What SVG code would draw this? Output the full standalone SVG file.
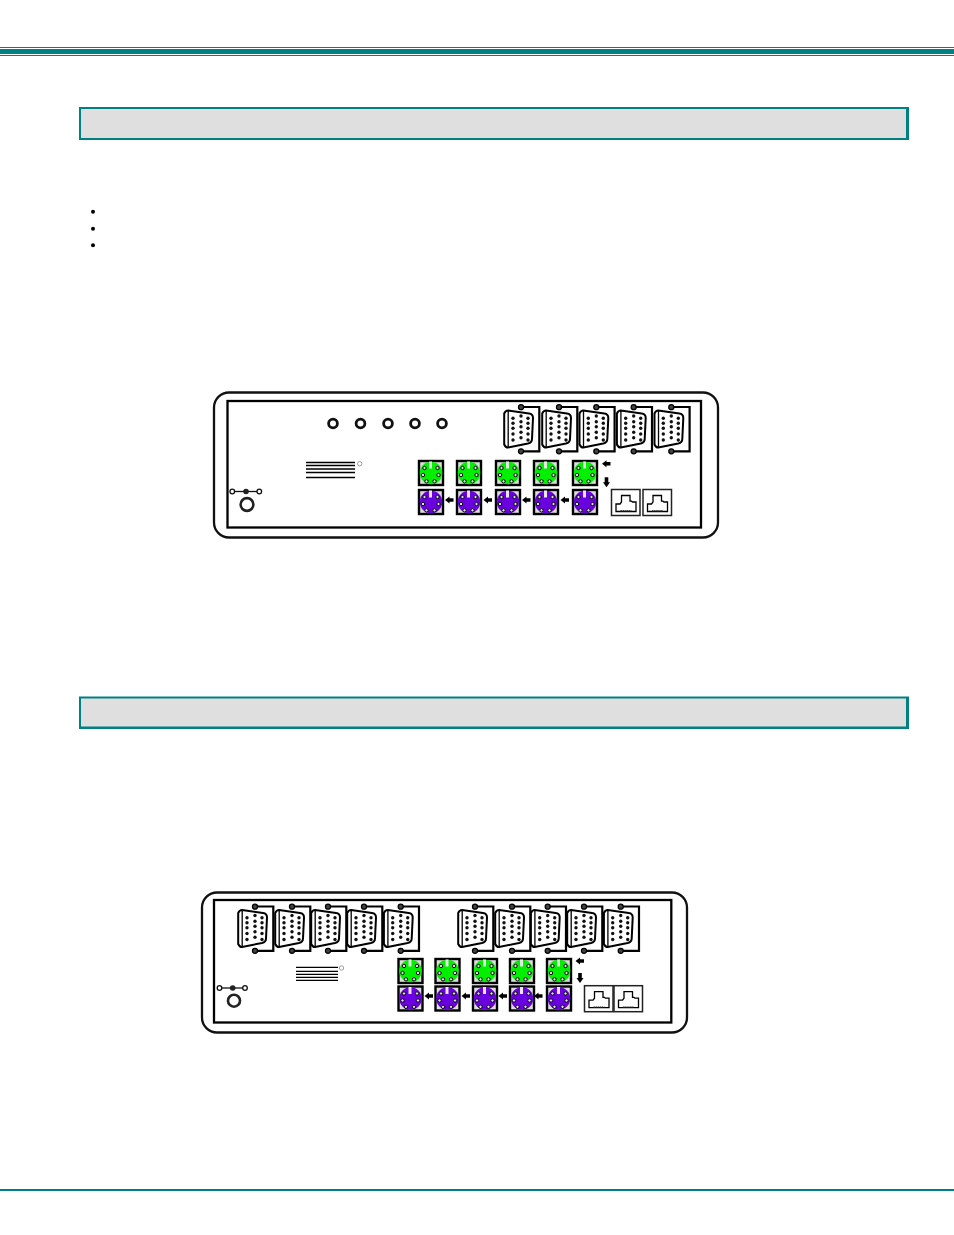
<svg xmlns="http://www.w3.org/2000/svg" width="954" height="1235" viewBox="0 0 954 1235">
<style>
.teal{fill:#008080}
.hfill{fill:#dfdfdf}
.outer{fill:#fff;stroke:#111;stroke-width:2.300}
.inner{fill:#fff;stroke:#000;stroke-width:2.300}
.knob{fill:#fff;stroke:#111;stroke-width:2.800}
.rule{stroke:#000;stroke-width:1.300;fill:none}
.tiny{fill:#fff;stroke:#888;stroke-width:.8}
.sw{fill:#fff;stroke:#111;stroke-width:1.300}
.frame{fill:none;stroke:#000;stroke-width:2.200}
.shell{fill:#fff;stroke:#000;stroke-width:2;stroke-linejoin:round}
.in{fill:none;stroke:#000;stroke-width:1.300}
.screw{fill:#444;stroke:#000;stroke-width:1.300}
.pin{fill:#111}
.pbox{fill:#ddd;stroke:#000;stroke-width:2.400}
.kp{fill:#ddd;stroke:#000;stroke-width:1}
.rj{fill:#fff;stroke:#222;stroke-width:1.500}
.rji{fill:none;stroke:#000;stroke-width:1.300}
.rjb{fill:none;stroke:#222;stroke-width:1.600;stroke-dasharray:1.500 .6}
</style>
<defs>
<g id="vga">
<path class="frame" d="M0,-22H18.300V22.300H0"/>
<path class="shell" d="M-13,-18.500L8,-15.500Q12,-15 12,-11L11,10Q11,13.500 7,14.500L-13,18.500Q-15.500,18.500 -16.800,15.500V-15.500Q-15.500,-18.500 -13,-18.500Z"/>
<path class="in" d="M-12.800,-18V18"/>
<circle class="screw" cx="0" cy="-21.800" r="2.500"/>
<circle class="screw" cx="0" cy="22.300" r="2.500"/>
<g class="pin">
<circle cx="-8" cy="-10.700" r="1.700"/><circle cx="-8" cy="-5.700" r="1.700"/><circle cx="-8" cy="-.7" r="1.700"/><circle cx="-8" cy="5" r="1.700"/><circle cx="-8" cy="11" r="1.700"/>
<circle cx="0" cy="-13" r="1.700"/><circle cx="0" cy="-7.300" r="1.700"/><circle cx="0" cy="-2.300" r="1.700"/><circle cx="0" cy="3.300" r="1.700"/><circle cx="0" cy="8.700" r="1.700"/>
<circle cx="7" cy="-10.700" r="1.700"/><circle cx="7" cy="-5.700" r="1.700"/><circle cx="7" cy="-.7" r="1.700"/><circle cx="7" cy="5" r="1.700"/><circle cx="7" cy="11" r="1.700"/>
</g>
</g>
<g id="pinsP">
<rect x="-2" y="-11.500" width="3" height="7" fill="#e8e8e8"/>
<circle class="kp" cx="-6.500" cy="-5" r="1.700"/><circle class="kp" cx="6.500" cy="-5" r="1.700"/>
<circle class="kp" cx="-8" cy="2" r="1.700"/><circle class="kp" cx="7.500" cy="2" r="1.700"/>
<circle class="kp" cx="-4.500" cy="8.300" r="1.700"/><circle class="kp" cx="3.500" cy="8.300" r="1.700"/>
</g>
<g id="ps2g">
<rect class="pbox" x="-12" y="-12" width="24" height="24"/>
<circle cx="0" cy="0" r="11.300" fill="#00f000"/>
<use href="#pinsP"/>
</g>
<g id="ps2p">
<rect class="pbox" x="-12" y="-12" width="24" height="24"/>
<circle cx="0" cy="0" r="11.300" fill="#6a00e0"/>
<use href="#pinsP"/>
</g>
<path id="al" d="M-4.500,0L0,-3.500V-1.800H4V1.800H0V3.500Z" fill="#000"/>
<path id="ad" d="M0,5.500L-3.500,0.500H-1.800V-4.500H1.800V0.500H3.500Z" fill="#000"/>
<g id="rj">
<rect class="rj" x="0" y="0" width="28.500" height="26"/>
<path class="rji" d="M4.500,22V14.500H8.500L10,12.500V6H18.500V11.700H20L21,12.500H24.500V22Z"/>
<path class="rjb" d="M9,21.500H20"/>
</g>
</defs>

<g id="top-rule">
<rect class="teal" x="0" y="47" width="954" height="1"/>
<rect class="teal" x="0" y="49" width="954" height="5"/>
<rect class="teal" x="0" y="55" width="954" height="1"/>
</g>
<g id="header-1">
<rect class="teal" x="79" y="107" width="830" height="33"/>
<rect class="hfill" x="81" y="109" width="825" height="29"/>
</g>
<g id="bullets" fill="#000">
<circle cx="93" cy="211.700" r="2"/><circle cx="93" cy="228.700" r="2"/><circle cx="93" cy="245.300" r="2"/>
</g>

<g id="panel-1">
<rect class="outer" x="214" y="392.500" width="504" height="145" rx="15"/>
<rect class="inner" x="227.500" y="401" width="473.500" height="126.500"/>
<g id="p1-knobs">
<circle class="knob" cx="333" cy="423.500" r="4.400"/><circle class="knob" cx="360.500" cy="423.500" r="4.400"/><circle class="knob" cx="388" cy="423.500" r="4.400"/><circle class="knob" cx="415" cy="423.500" r="4.400"/><circle class="knob" cx="442" cy="423.500" r="4.400"/>
</g>
<path class="rule" d="M306,462.500H355M306,465.500H355M306,469H355M306,472.500H355M306,477.500H355"/>
<circle class="tiny" cx="359.700" cy="463.700" r="2.200"/>
<g id="p1-switch">
<path d="M232,491.500H259.500" stroke="#111" stroke-width="1.300"/>
<circle class="sw" cx="232.300" cy="491.500" r="2.300"/><circle cx="246" cy="491.500" r="2.800" fill="#222"/><circle class="sw" cx="259.300" cy="491.500" r="2.300"/>
<circle cx="247" cy="504.500" r="6.400" fill="#fff" stroke="#222" stroke-width="2.600"/>
</g>
<use id="p1-vga1" href="#vga" x="521" y="429"/>
<use id="p1-vga2" href="#vga" x="559" y="429"/>
<use id="p1-vga3" href="#vga" x="596.300" y="429"/>
<use id="p1-vga4" href="#vga" x="633.700" y="429"/>
<use id="p1-vga5" href="#vga" x="671.300" y="429"/>
<use id="p1-k1" href="#ps2g" x="431" y="473"/><use id="p1-k2" href="#ps2g" x="469" y="473"/><use id="p1-k3" href="#ps2g" x="508" y="473"/><use id="p1-k4" href="#ps2g" x="546" y="473"/><use id="p1-k5" href="#ps2g" x="585" y="473"/>
<use id="p1-m1" href="#ps2p" x="431" y="502"/><use id="p1-m2" href="#ps2p" x="469" y="502"/><use id="p1-m3" href="#ps2p" x="508" y="502"/><use id="p1-m4" href="#ps2p" x="546" y="502"/><use id="p1-m5" href="#ps2p" x="585" y="502"/>
<use id="p1-rj1" href="#rj" x="611.500" y="489.500"/><use id="p1-rj2" href="#rj" x="643" y="489.500"/>
</g>
<g id="connectors-1">
<use href="#al" x="449.500" y="500"/><use href="#al" x="488" y="500"/><use href="#al" x="526.500" y="500"/><use href="#al" x="565" y="500"/>
<use href="#al" x="606.500" y="463.700"/><use href="#ad" x="606.500" y="481.700"/>
</g>

<g id="header-2">
<rect class="teal" x="79" y="696.500" width="830" height="32.500"/>
<rect class="hfill" x="81" y="698.500" width="825" height="28"/>
</g>

<g id="panel-2">
<rect class="outer" x="202" y="892.500" width="485" height="140" rx="15"/>
<rect class="inner" x="214" y="900" width="457.300" height="122.500"/>
<path class="rule" d="M296,967.300H338M296,971.300H338M296,974.300H338M296,977.300H338M296,980.300H338"/>
<circle class="tiny" cx="341.500" cy="968" r="2.200"/>
<g id="p2-switch">
<path d="M219.500,988H245" stroke="#111" stroke-width="1.300"/>
<circle class="sw" cx="219.500" cy="988" r="2.300"/><circle cx="232.700" cy="988" r="2.800" fill="#222"/><circle class="sw" cx="245" cy="988" r="2.300"/>
<circle cx="234" cy="1000.700" r="6" fill="#fff" stroke="#222" stroke-width="2.600"/>
</g>
<use id="p2-vga1" href="#vga" x="255" y="928.500"/><use id="p2-vga2" href="#vga" x="292" y="928.500"/><use id="p2-vga3" href="#vga" x="328" y="928.500"/><use id="p2-vga4" href="#vga" x="364" y="928.500"/><use id="p2-vga5" href="#vga" x="400.700" y="928.500"/>
<use id="p2-vga6" href="#vga" x="475" y="928.500"/><use id="p2-vga7" href="#vga" x="512" y="928.500"/><use id="p2-vga8" href="#vga" x="547.700" y="928.500"/><use id="p2-vga9" href="#vga" x="584" y="928.500"/><use id="p2-vga10" href="#vga" x="620.700" y="928.500"/>
<use id="p2-k1" href="#ps2g" x="410.500" y="971"/><use id="p2-k2" href="#ps2g" x="447.500" y="971"/><use id="p2-k3" href="#ps2g" x="485" y="971"/><use id="p2-k4" href="#ps2g" x="522" y="971"/><use id="p2-k5" href="#ps2g" x="559" y="971"/>
<use id="p2-m1" href="#ps2p" x="410.500" y="998.500"/><use id="p2-m2" href="#ps2p" x="447.500" y="998.500"/><use id="p2-m3" href="#ps2p" x="485" y="998.500"/><use id="p2-m4" href="#ps2p" x="522" y="998.500"/><use id="p2-m5" href="#ps2p" x="559" y="998.500"/>
<use id="p2-rj1" href="#rj" x="584.500" y="985.700"/><use id="p2-rj2" href="#rj" x="614" y="985.700"/>
</g>
<g id="connectors-2">
<use href="#al" x="429" y="996"/><use href="#al" x="466" y="996"/><use href="#al" x="503" y="996"/><use href="#al" x="538.500" y="996"/>
<use href="#al" x="580" y="961"/><use href="#ad" x="580" y="977.500"/>
</g>

<rect id="bottom-rule" class="teal" x="0" y="1189" width="954" height="2"/>
</svg>
